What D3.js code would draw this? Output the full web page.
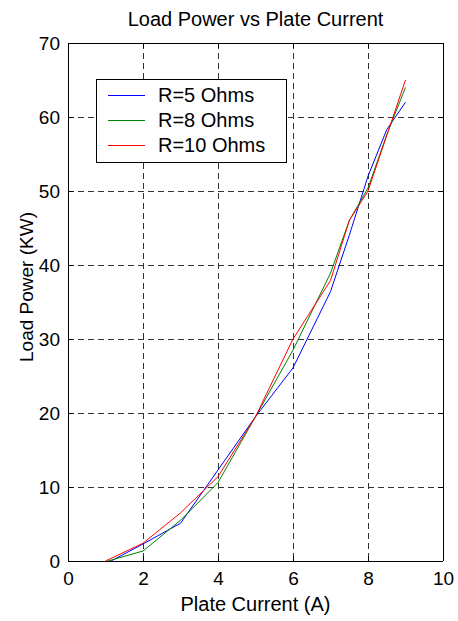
<!DOCTYPE html>
<html><head><meta charset="utf-8">
<script src="https://cdn.jsdelivr.net/npm/d3@7"></script>
<style>body{margin:0;background:#fff}svg{display:block}text{font-family:"Liberation Sans",Arial,sans-serif;fill:#000}</style>
</head><body><div id="chart"></div>
<script>
const plateCurrent = [1, 2, 3, 4, 5, 6, 7, 7.5, 8, 8.5, 9];
const seriesNames = ["R=5 Ohms", "R=8 Ohms", "R=10 Ohms"];
const seriesColors = ["#0000ff", "#008000", "#ff0000"];
const powerR5  = [-0.4, 2.3, 5.1, 12.3, 19.5, 26.1, 36.4, 44.0, 52.0, 58.3, 62.0];
const powerR8  = [-0.1, 1.35, 5.5, 10.6, 19.5, 28.5, 38.9, 46.0, 50.4, 57.6, 64.0];
const powerR10 = [0.0, 2.4, 6.5, 11.4, 19.5, 30.0, 37.9, 46.0, 50.0, 57.5, 65.0];
const xTicks = [0, 2, 4, 6, 8, 10];
const yTicks = [0, 10, 20, 30, 40, 50, 60, 70];

const W = 458, H = 621;
const L = 68, R = 443, T = 43, B = 561;
const svg = d3.select("#chart").append("svg").attr("width", W).attr("height", H);
const x = d3.scaleLinear().domain([0, 10]).range([L, R]);
const y = d3.scaleLinear().domain([0, 70]).range([B, T]);

svg.append("rect").attr("x", L).attr("y", T).attr("width", R - L).attr("height", B - T).attr("fill", "#fff");

// grid
const grid = svg.append("g").attr("stroke", "#333").attr("stroke-width", 1).attr("stroke-dasharray", "6,4").attr("shape-rendering", "crispEdges");
grid.selectAll(".gx").data(xTicks.filter(d => d > 0 && d < 10)).join("line")
  .attr("x1", d => Math.round(x(d)) + 0.5).attr("x2", d => Math.round(x(d)) + 0.5).attr("y1", T).attr("y2", B);
grid.selectAll(".gy").data(yTicks.filter(d => d > 0 && d < 70)).join("line")
  .attr("y1", d => Math.round(y(d)) + 0.5).attr("y2", d => Math.round(y(d)) + 0.5).attr("x1", L).attr("x2", R);

// data lines
svg.append("clipPath").attr("id", "clip").append("rect").attr("x", L).attr("y", T).attr("width", R - L).attr("height", B - T);
const allSeries = [powerR5, powerR8, powerR10];
const line = d3.line().x((d, i) => x(plateCurrent[i])).y(d => y(d));
svg.append("g").attr("clip-path", "url(#clip)").selectAll("path").data(allSeries).join("path")
  .attr("d", d => line(d)).attr("fill", "none").attr("stroke", (d, i) => seriesColors[i]).attr("stroke-width", 1);

// axes
const fs = 19;
const axB = svg.append("g").attr("transform", `translate(0,${B})`).call(d3.axisBottom(x).tickValues(xTicks).tickSize(-5).tickPadding(11).tickFormat(d3.format("d")));
const axT = svg.append("g").attr("transform", `translate(0,${T})`).call(d3.axisTop(x).tickValues(xTicks).tickSize(-5).tickFormat(""));
const axL = svg.append("g").attr("transform", `translate(${L},0)`).call(d3.axisLeft(y).tickValues(yTicks).tickSize(-5).tickPadding(8).tickFormat(d3.format("d")));
const axR = svg.append("g").attr("transform", `translate(${R},0)`).call(d3.axisRight(y).tickValues(yTicks).tickSize(-5).tickFormat(""));
[axB, axT, axL, axR].forEach(a => {
  a.selectAll("path").attr("stroke", "#000").attr("stroke-width", 1);
  a.selectAll("line").attr("stroke", "#000");
  a.selectAll("text").attr("font-size", fs).attr("font-family", '"Liberation Sans",Arial,sans-serif').attr("fill", "#000");
});
axB.selectAll("path").attr("d", `M${L},0.5H${R}`);
axT.selectAll("path").attr("d", `M${L},0.5H${R}`);
axL.selectAll("path").attr("d", `M0.5,${T}V${B}`);
axR.selectAll("path").attr("d", `M0.5,${T}V${B}`);

// titles
svg.append("text").attr("x", (L + R) / 2).attr("y", 26).attr("text-anchor", "middle").attr("font-size", 20).text("Load Power vs Plate Current");
svg.append("text").attr("x", (L + R) / 2).attr("y", 611).attr("text-anchor", "middle").attr("font-size", 20).text("Plate Current (A)");
svg.append("text").attr("transform", `translate(33,${(T + B) / 2 - 15}) rotate(-90)`).attr("text-anchor", "middle").attr("font-size", 19).text("Load Power (KW)");

// legend
const lg = svg.append("g");
lg.append("rect").attr("x", 96.5).attr("y", 79.5).attr("width", 190).attr("height", 83).attr("fill", "#fff").attr("stroke", "#000").attr("stroke-width", 1);
seriesNames.forEach((n, i) => {
  const yy = 95 + i * 25;
  lg.append("line").attr("x1", 108).attr("x2", 145).attr("y1", yy + 0.5).attr("y2", yy + 0.5).attr("stroke", seriesColors[i]).attr("stroke-width", 1);
  lg.append("text").attr("x", 158).attr("y", yy + 7).attr("font-size", 20).text(n);
});
</script></body></html>
